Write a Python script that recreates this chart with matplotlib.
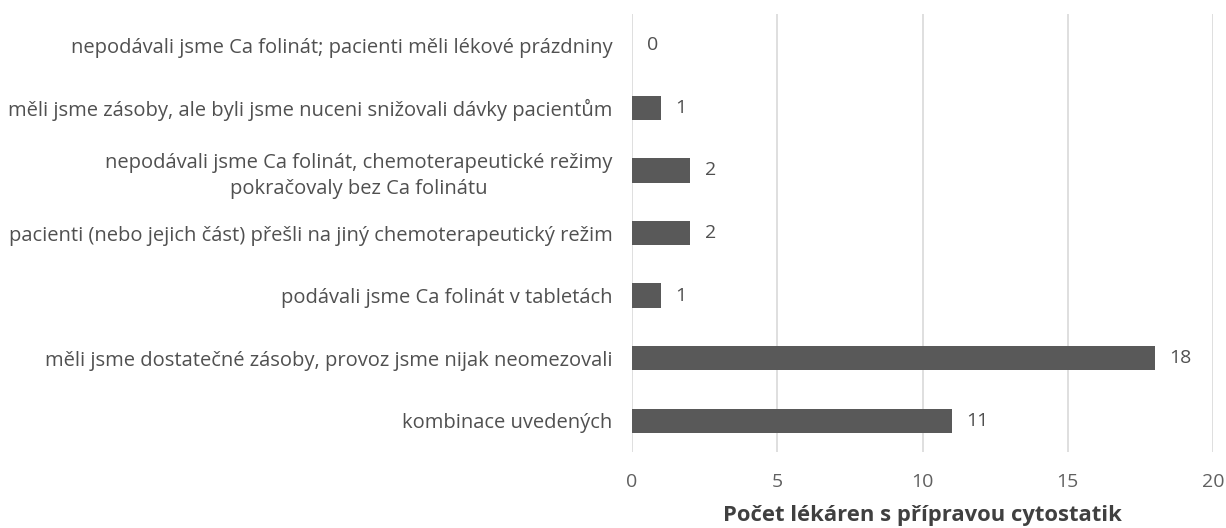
import matplotlib
matplotlib.use("Agg")
import matplotlib.pyplot as plt

categories = [
    "nepodávali jsme Ca folinát; pacienti měli lékové prázdniny",
    "měli jsme zásoby, ale byli jsme nuceni snižovali dávky pacientům",
    "nepodávali jsme Ca folinát, chemoterapeutické režimy\npokračovaly bez Ca folinátu",
    "pacienti (nebo jejich část) přešli na jiný chemoterapeutický režim",
    "podávali jsme Ca folinát v tabletách",
    "měli jsme dostatečné zásoby, provoz jsme nijak neomezovali",
    "kombinace uvedených",
]
values = [0, 1, 2, 2, 1, 18, 11]
xticks = [0, 5, 10, 15, 20]
xlabel = "Počet lékáren s přípravou cytostatik"

plt.rcParams['font.family'] = ['Open Sans', 'DejaVu Sans']

W, H = 1226, 528
fig = plt.figure(figsize=(W / 100, H / 100), dpi=100)
left, right, top, bottom = 632, 1213, 14, 452
ax = fig.add_axes([left / W, 1 - bottom / H, (right - left) / W, (bottom - top) / H])

y = list(range(len(categories)))
ax.barh(y, values, height=0.39, color="#595959", zorder=3)
ax.set_ylim(len(categories) - 0.5, -0.5)
ax.set_xlim(0, 20)
ax.set_xticks(xticks)
ax.set_yticks(y)
ax.set_yticklabels(categories, fontsize=14.5, color="#505050", multialignment="center",
                   linespacing=1.4)
ax.tick_params(axis="y", length=0, pad=14)
ax.tick_params(axis="x", length=0, pad=15, labelsize=14, labelcolor="#606060")
ax.grid(axis="x", color="#d9d9d9", linewidth=1.2, zorder=0)
for s in ax.spines.values():
    s.set_visible(False)

for yi, v in zip(y, values):
    ax.text(v + 0.5, yi, str(v), va="center", ha="left", fontsize=14, color="#505050")

ax.set_xlabel(xlabel, fontsize=15.8, fontweight="bold", color="#404040", va="center")
ax.xaxis.set_label_coords(0.5, -(515 - bottom) / (bottom - top))

fig.savefig("out.png", dpi=100)
